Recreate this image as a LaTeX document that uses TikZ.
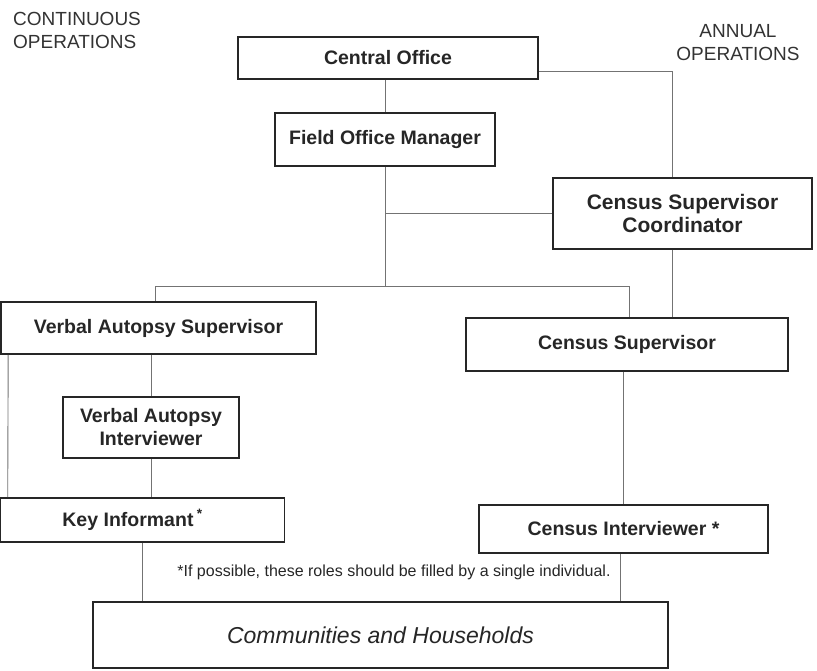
\documentclass[tikz,border=0pt]{standalone}
\usepackage{fontspec}
\setmainfont{Liberation Sans}

\tikzset{
  orgbox/.style={draw=black!85, line width=1.6, inner sep=0pt, align=center,
    font=\fontsize{19.5}{23}\selectfont\bfseries, text=black!85},
  orgline/.style={draw=black!55, line width=0.9},
  headtext/.style={font=\fontsize{19}{23}\selectfont, text=black!80, inner sep=0pt}
}

\begin{document}
\begin{tikzpicture}[x=1pt,y=-1pt]
            \useasboundingbox (0,0) rectangle (817,671);
            {

            % Headings of the two columns
            \node [headtext, anchor=west, align=left] (continuous) at (13,30) {CONTINUOUS\\OPERATIONS};%
            \node [headtext, align=center] (annual) at (738,43) {ANNUAL\\OPERATIONS};%

            % Drawing box Central Office
            \node [orgbox, minimum width=300, minimum height=42] (central) at (388,58) {Central Office};%

            % Drawing box Field Office Manager
            \node [orgbox, minimum width=220, minimum height=53] (fom) at (385,139.5) {Field Office Manager};%

            % Drawing box Census Supervisor Coordinator
            \node [orgbox, minimum width=259, minimum height=71, font=\fontsize{21}{23}\selectfont\bfseries] (csc) at (682.5,213.5) {Census Supervisor\\Coordinator};%

            % Drawing box Verbal Autopsy Supervisor
            \node [orgbox, minimum width=315, minimum height=52] (vas) at (158.5,328) {Verbal Autopsy Supervisor};%

            % Drawing box Census Supervisor
            \node [orgbox, minimum width=322, minimum height=53] (cs) at (627,344.5) {Census Supervisor};%

            % Drawing box Verbal Autopsy Interviewer
            \node [orgbox, minimum width=176, minimum height=61] (vai) at (151,427.5) {Verbal Autopsy\\Interviewer};%

            % Drawing box Key Informant
            \node [orgbox, minimum width=284, minimum height=44] (ki) at (142.5,520) {Key Informant\,\textsuperscript{*}\hspace*{20pt}};%

            % Drawing box Census Interviewer
            \node [orgbox, minimum width=289, minimum height=48] (ci) at (623.5,529) {Census Interviewer *};%

            % Drawing box Communities and Households
            \node [orgbox, minimum width=575, minimum height=66, font=\fontsize{23}{27}\selectfont\itshape] (ch) at (380.5,635) {Communities and Households};%

            % Footnote
            \node [font=\fontsize{16}{19}\selectfont, text=black!85, inner sep=0pt] (note) at (394,572) {*If possible, these roles should be filled by a single individual.};%

            % Points where the lines turn
            \coordinate (annualline) at (672,71);%
            \coordinate (branchL) at (155,286);%
            \coordinate (branchR) at (629,286);%

            % Drawing line Central Office Field Office Manager
            \draw [orgline] (fom.north |- central.south) -- (fom.north);%

            % Drawing line Central Office Census Supervisor Coordinator
            \draw [orgline] (central.east |- annualline) -- (annualline) -- (annualline |- csc.north);%

            % Drawing line Field Office Manager Census Supervisor Coordinator
            \draw [orgline] (fom.south |- csc.west) -- (csc.west);%

            % Drawing line Field Office Manager to both supervisors
            \draw [orgline] (fom.south) -- (fom.south |- branchL);%
            \draw [orgline] (vas.north -| branchL) -- (branchL) -- (branchR) -- (cs.north -| branchR);%

            % Drawing line Census Supervisor Coordinator Census Supervisor
            \draw [orgline] (csc.south -| annualline) -- (cs.north -| annualline);%

            % Drawing lines below Verbal Autopsy Supervisor
            \draw [orgline] ([xshift=8pt]vas.south west) -- ([xshift=8pt]ki.north west);%
            \draw [orgline] (vai.north |- vas.south) -- (vai.north);%
            \draw [orgline] (vai.south) -- (vai.south |- ki.north);%

            % Drawing line Census Supervisor Census Interviewer
            \draw [orgline] (ci.north |- cs.south) -- (ci.north);%

            % Drawing lines to Communities and Households
            \draw [orgline] (ki.south) -- (ki.south |- ch.north);%
            \draw [orgline] ([xshift=-3pt]ci.south) -- ([xshift=-3pt]ci.south |- ch.north);%
            }
\end{tikzpicture}
\end{document}
